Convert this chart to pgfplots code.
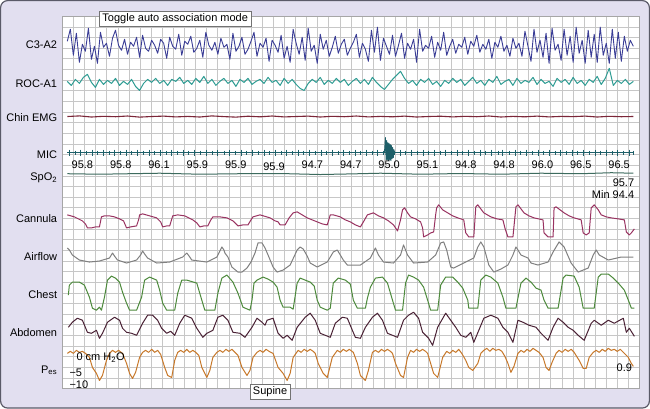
\documentclass[border=0pt]{standalone}
\usepackage{pgfplots}
\pgfplotsset{compat=1.18}
\usepackage{fontspec}
\setmainfont{Liberation Sans}
\definecolor{bgl}{HTML}{E2DFF0}
\definecolor{frm}{HTML}{5A5A68}
\definecolor{ceeg}{HTML}{3A3D96}
\definecolor{croc}{HTML}{2E9C93}
\definecolor{cemg}{HTML}{7B2638}
\definecolor{cmic}{HTML}{1E5F68}
\definecolor{cspo}{HTML}{3D6B5E}
\definecolor{ccan}{HTML}{993361}
\definecolor{cair}{HTML}{808080}
\definecolor{cche}{HTML}{4D8A3C}
\definecolor{cabd}{HTML}{4A2235}
\definecolor{cpes}{HTML}{C7782A}
\begin{document}
\begin{tikzpicture}[x=1bp,y=1bp]
\fill[bgl,draw=frm,line width=1.2bp,rounded corners=7bp] (1.5,1.5) rectangle (648,407.5);
\begin{axis}[
  at={(63bp,21bp)}, anchor=south west,
  scale only axis, width=575bp, height=371bp,
  xmin=63, xmax=638, ymin=17, ymax=388, y dir=reverse,
  axis background/.style={fill=white},
  axis line style={draw=black!35, line width=0.5pt},
  xtick={74.06,85.12,...,630}, ytick={27.6,38.2,...,380},
  xticklabels={}, yticklabels={}, major tick length=0pt,
  grid=major, grid style={draw=black!22, line width=0.45pt},
  clip=false,
  every axis plot/.append style={line width=1pt, line join=round},
  font=\fontsize{11}{12}\selectfont,
]
% C3-A2
\addplot[ceeg, mark=none, line width=0.9pt] table[x expr=68+3*\coordindex, y index=0, header=false, row sep=\\] {
42\\30\\56\\34\\63\\45\\52\\29\\60\\47\\64\\33\\
48\\44\\57\\39\\31\\46\\51\\40\\55\\43\\47\\38\\58\\36\\49\\52\\41\\46\\54\\
40\\44\\59\\38\\47\\50\\35\\56\\42\\45\\37\\53\\49\\41\\58\\33\\46\\51\\43\\55\\
39\\48\\45\\60\\34\\52\\47\\38\\55\\50\\42\\33\\57\\44\\48\\39\\62\\41\\46\\53\\
36\\59\\47\\63\\30\\44\\55\\38\\61\\29\\52\\46\\64\\35\\50\\41\\57\\48\\37\\54\\
45\\40\\56\\49\\43\\35\\58\\44\\50\\62\\31\\53\\28\\61\\39\\47\\55\\36\\57\\46\\
34\\59\\44\\50\\40\\63\\30\\52\\46\\49\\37\\58\\43\\51\\33\\56\\47\\40\\54\\45\\
48\\38\\55\\42\\47\\36\\53\\45\\50\\40\\59\\43\\48\\37\\52\\46\\57\\39\\49\\44\\
57\\32\\47\\62\\30\\53\\41\\58\\34\\64\\29\\51\\45\\61\\30\\56\\37\\63\\28\\54\\
41\\64\\31\\58\\35\\63\\28\\56\\44\\64\\30\\59\\33\\62\\37\\52\\41\\47\\
};
% ROC-A1
\addplot[croc, mark=none] table[x expr=68+4*\coordindex, y index=0, header=false, row sep=\\] {
82\\86\\80\\84\\78\\75\\83\\88\\80\\85\\
81\\84\\79\\86\\82\\85\\80\\87\\91\\84\\
80\\83\\79\\84\\81\\86\\80\\82\\78\\84\\
81\\85\\79\\83\\77\\84\\80\\86\\82\\79\\
84\\81\\87\\80\\83\\79\\85\\82\\80\\84\\
78\\83\\81\\86\\79\\84\\80\\85\\89\\91\\
84\\80\\83\\78\\85\\81\\84\\79\\83\\80\\
86\\82\\79\\84\\80\\85\\78\\83\\87\\90\\
85\\80\\76\\72\\79\\84\\81\\86\\80\\83\\
79\\85\\82\\87\\81\\84\\79\\83\\80\\86\\
82\\78\\84\\81\\86\\80\\83\\77\\85\\82\\
80\\86\\79\\84\\81\\83\\78\\85\\80\\84\\
82\\87\\79\\83\\80\\85\\78\\84\\81\\86\\
80\\83\\77\\85\\79\\69\\86\\81\\84\\80\\85\\82\\
};
% Chin EMG
\addplot[cemg, mark=none, line width=1.1pt] table[x expr=68+12*\coordindex, y index=0, header=false, row sep=\\] {
117\\116.4\\117.5\\116.8\\117.2\\116.5\\117.6\\117\\116.6\\117.4\\116.9\\117.5\\116.4\\117.1\\117.6\\116.7\\117.3\\116.5\\117.4\\117\\116.6\\117.5\\116.8\\117.2\\
116.5\\117.4\\116.9\\117.3\\116.6\\117.5\\117\\116.7\\117.4\\116.8\\117.2\\116.5\\117.5\\116.9\\117.3\\116.6\\117.4\\116.9\\117.1\\116.6\\117.5\\116.8\\117.2\\117\\
};
% MIC baseline and spikes
\addplot[cmic, mark=none, line width=1.2pt] coordinates {(68,153) (632,153)};
\addplot[cmic, only marks, mark=|, mark size=3pt, mark options={line width=0.8pt}] coordinates {
(70,153)(81,153)(93,153)(104,153)(115,153)(127,153)(138,153)(150,153)(161,153)(172,153)(184,153)(195,153)(207,153)(218,153)(229,153)(241,153)(252,153)(264,153)(275,153)(286,153)(298,153)(309,153)(321,153)(332,153)(343,153)(355,153)(366,153)(377,153)(400,153)(411,153)(423,153)(434,153)(445,153)(457,153)(468,153)(480,153)(491,153)(502,153)(514,153)(525,153)(537,153)(548,153)(559,153)(571,153)(582,153)(594,153)(605,153)(616,153)(628,153)};
\addplot[cmic, only marks, mark=|, mark size=2pt, mark options={line width=0.7pt}] coordinates {
(76,153)(87,153)(98,153)(110,153)(121,153)(132,153)(144,153)(155,153)(167,153)(178,153)(189,153)(201,153)(212,153)(224,153)(235,153)(246,153)(258,153)(269,153)(281,153)(292,153)(303,153)(315,153)(326,153)(338,153)(349,153)(360,153)(372,153)(383,153)(394,153)(405,153)(417,153)(428,153)(440,153)(451,153)(462,153)(474,153)(485,153)(497,153)(508,153)(519,153)(531,153)(542,153)(554,153)(565,153)(576,153)(588,153)(599,153)(611,153)(622,153)(632,153)};
\addplot[cmic, mark=none, line width=0.9pt] coordinates {
(384,153)(385,138)(385.6,160)(386.2,141)(386.8,160)(387.4,143)(388,161)(388.6,144)(389.2,160)(389.8,145)(390.4,161)(391,146)(391.6,159)(392.2,148)(392.8,158)(393.4,150)(394,153)};
% SpO2
\addplot[cspo, mark=none] coordinates {
(68,174)(100,174.5)(130,174)(160,173.5)(200,174.5)(240,174)(280,173.8)(320,174.8)(350,174.2)(380,173.5)(420,174.5)(460,173.8)(500,174.5)(540,173.5)(580,174)(610,173)(632,173.5)};
% Cannula
\addplot[ccan, mark=none] coordinates {
(68,215)(75,217)(83,221)(86,224)(88,228)(92,228)(96,227)(100,227)(102,217)(105,216)(110,216)(115,217)(120,219)(124,221)(127,228)(131,227)(137,226)(139,220)(140,215)(143,214)(150,216)(157,218)(161,222)(163,227)(167,226)(170,226)(173,216)(178,215)(185,216)(193,220)(197,223)(200,227)(204,226)(208,226)(211,220)(213,217)(220,217)(227,218)(233,221)(236,224)(238,226)(243,225)(248,225)(251,220)(253,217)(260,215)(270,218)(275,221)(278,222)(280,225)(285,225)(289,218)(293,213)(297,212)(302,215)(307,218)(312,220)(317,222)(322,224)(327,225)(330,215)(333,215)(340,217)(345,220)(350,222)(355,225)(360,227)(363,222)(367,215)(373,213)(378,216)(383,218)(388,221)(393,225)(397,231)(400,220)(402,210)(404,208)(407,213)(410,217)(415,219)(420,222)(422,228)(423,237)(427,235)(430,233)(433,232)(435,215)(436,208)(438,205)(442,210)(447,213)(452,216)(457,218)(463,220)(465,233)(468,237)(473,237)(475,207)(477,205)(480,209)(483,213)(490,217)(496,219)(502,220)(504,228)(507,237)(512,237)(515,207)(517,205)(520,209)(523,213)(528,216)(533,218)(542,220)(543,233)(547,237)(552,237)(553,208)(555,207)(559,210)(563,213)(568,216)(573,218)(580,220)(582,233)(585,235)(588,233)(590,208)(593,205)(597,210)(600,215)(605,217)(610,218)(617,219)(623,220)(625,232)(628,235)(630,233)(633,229)};
% Airflow
\addplot[cair, mark=none] coordinates {
(68,248)(70,250)(73,255)(80,260)(90,262)(100,261)(110,258)(113,253)(115,256)(118,260)(127,263)(137,260)(141,255)(143,251)(145,254)(148,258)(157,263)(170,262)(183,257)(187,253)(190,257)(192,260)(207,262)(217,257)(220,251)(222,247)(224,250)(225,253)(228,257)(232,267)(238,272)(242,272)(247,268)(251,262)(255,253)(258,243)(262,243)(265,248)(268,255)(273,267)(277,272)(283,270)(290,265)(297,250)(300,247)(303,249)(307,256)(310,263)(317,267)(327,262)(333,252)(337,250)(340,255)(343,260)(347,265)(360,265)(370,258)(375,248)(378,255)(383,262)(393,263)(400,255)(403,245)(405,250)(407,255)(413,263)(427,262)(435,255)(440,243)(443,242)(446,250)(450,267)(453,268)(463,263)(473,258)(477,247)(480,242)(483,247)(488,265)(493,272)(500,269)(507,265)(512,255)(515,247)(517,250)(520,255)(527,258)(530,263)(537,265)(547,262)(552,252)(555,247)(558,242)(563,247)(570,263)(577,272)(587,268)(592,255)(595,250)(598,255)(607,260)(620,257)(632,257)};
% Chest
\addplot[cche, mark=none] coordinates {
(69,295)(70,285)(73,282)(80,282)(85,285)(90,297)(93,308)(97,310)(100,307)(102,310)(105,297)(108,280)(112,276)(116,278)(120,282)(123,292)(127,303)(130,310)(137,310)(142,297)(145,280)(150,277)(157,280)(160,290)(163,303)(167,310)(175,310)(178,293)(182,280)(187,280)(197,283)(202,300)(205,310)(215,310)(218,293)(222,278)(227,275)(233,282)(238,293)(243,307)(250,310)(252,300)(254,283)(257,280)(263,277)(268,279)(273,282)(277,287)(280,300)(283,307)(290,307)(293,309)(297,283)(300,278)(305,280)(310,282)(314,286)(317,300)(320,307)(327,310)(330,308)(333,283)(338,278)(345,280)(350,284)(353,300)(357,308)(365,308)(367,298)(370,287)(375,278)(382,277)(387,283)(392,300)(395,310)(402,310)(405,283)(408,275)(413,277)(418,280)(423,287)(427,300)(430,310)(437,310)(440,285)(445,277)(452,277)(457,282)(462,288)(467,300)(468,308)(477,308)(480,280)(485,275)(490,277)(497,283)(502,297)(505,308)(515,308)(520,283)(525,278)(530,282)(535,288)(540,290)(543,300)(547,308)(557,308)(562,278)(565,275)(573,276)(578,287)(582,308)(593,308)(597,277)(600,274)(607,274)(612,278)(617,283)(623,290)(627,300)(630,308)(633,308)};
% Abdomen
\addplot[cabd, mark=none] coordinates {
(69,327)(73,322)(78,318)(83,320)(88,332)(92,333)(97,330)(100,338)(103,333)(108,322)(115,317)(120,320)(123,328)(127,332)(132,333)(137,335)(143,323)(148,315)(153,315)(158,320)(162,328)(167,333)(171,331)(175,335)(180,323)(185,315)(192,318)(197,328)(203,337)(207,333)(213,330)(218,317)(223,315)(228,320)(233,332)(240,333)(245,337)(252,327)(257,318)(262,322)(265,325)(267,320)(273,318)(278,333)(283,338)(287,335)(292,340)(297,327)(305,317)(310,313)(315,320)(320,333)(325,335)(330,337)(335,323)(342,317)(347,318)(352,330)(355,337)(360,338)(365,327)(372,317)(377,313)(382,320)(387,333)(392,335)(397,337)(403,320)(408,315)(413,312)(418,318)(422,332)(428,338)(432,345)(437,327)(445,313)(450,320)(455,327)(460,335)(465,337)(470,332)(473,342)(478,330)(483,318)(490,315)(497,318)(502,327)(507,332)(512,342)(517,320)(522,322)(528,325)(535,327)(540,333)(547,340)(552,327)(557,318)(562,322)(567,327)(572,330)(577,335)(583,340)(590,323)(593,320)(600,325)(607,320)(613,323)(622,318)(625,332)(628,328)(633,336)};
% Pes
\addplot[cpes, mark=none] coordinates {
(68,353)(71,351)(74,353)(77,350)(80,352)(83,351)(86,353)(90,357)(93,367)(97,373)(100,380)(103,375)(107,360)(110,353)(113,350)(116,352)(119,350)(123,353)(127,363)(130,373)(133,378)(136,372)(140,357)(143,352)(146,350)(149,352)(152,349)(155,352)(158,350)(161,354)(165,367)(168,375)(172,377)(175,360)(178,352)(181,350)(184,352)(187,349)(190,352)(193,350)(196,352)(199,355)(202,367)(207,377)(210,370)(213,357)(217,352)(220,350)(223,352)(226,349)(229,351)(232,349)(235,352)(238,355)(242,367)(247,375)(250,370)(253,357)(257,352)(260,350)(263,352)(266,349)(269,351)(273,353)(278,367)(283,373)(287,380)(290,373)(293,357)(298,350)(301,352)(304,349)(307,351)(310,349)(313,351)(315,353)(318,363)(323,373)(327,377)(332,357)(337,350)(340,352)(343,349)(346,351)(349,349)(353,352)(357,363)(360,375)(365,380)(368,370)(372,352)(375,350)(378,352)(381,349)(384,351)(387,349)(390,351)(392,353)(395,363)(400,375)(403,377)(407,357)(410,350)(413,352)(416,349)(419,351)(422,349)(425,351)(427,353)(430,363)(433,373)(437,377)(442,357)(446,351)(449,353)(452,350)(455,352)(458,349)(461,353)(465,360)(468,367)(472,370)(477,363)(480,353)(483,350)(486,348)(489,351)(492,348)(495,350)(498,349)(501,351)(504,356)(507,363)(510,372)(513,366)(517,353)(520,350)(523,352)(526,349)(529,351)(532,348)(535,350)(538,352)(542,357)(545,367)(548,370)(551,362)(555,353)(558,350)(561,352)(564,349)(567,351)(570,349)(573,352)(578,360)(582,368)(585,368)(588,357)(592,352)(595,350)(598,352)(601,349)(604,351)(607,348)(610,350)(613,349)(616,351)(619,349)(622,352)(627,357)(630,363)(632,366)};
% channel labels
\node[anchor=east, inner sep=0pt] at (axis cs:58,45) {C3-A2};
\node[anchor=east, inner sep=0pt] at (axis cs:58,84) {ROC-A1};
\node[anchor=east, inner sep=0pt] at (axis cs:58,118) {Chin EMG};
\node[anchor=east, inner sep=0pt] at (axis cs:58,155) {MIC};
\node[anchor=east, inner sep=0pt] at (axis cs:58,178) {SpO\textsubscript{2}};
\node[anchor=east, inner sep=0pt] at (axis cs:58,219) {Cannula};
\node[anchor=east, inner sep=0pt] at (axis cs:58,257) {Airflow};
\node[anchor=east, inner sep=0pt] at (axis cs:58,294) {Chest};
\node[anchor=east, inner sep=0pt] at (axis cs:58,332) {Abdomen};
\node[anchor=east, inner sep=0pt] at (axis cs:58,370) {P\textsubscript{es}};
% SpO2 values
\node at (axis cs:83,165) {95.8};
\node at (axis cs:121.2,165) {95.8};
\node at (axis cs:159.4,165) {96.1};
\node at (axis cs:197.6,165) {95.9};
\node at (axis cs:235.8,165) {95.9};
\node at (axis cs:274,167) {95.9};
\node at (axis cs:312.2,165) {94.7};
\node at (axis cs:350.4,165) {94.7};
\node at (axis cs:388.6,165) {95.0};
\node at (axis cs:426.8,165) {95.1};
\node at (axis cs:465,165) {94.8};
\node at (axis cs:503.2,165) {94.8};
\node at (axis cs:541.4,165) {96.0};
\node at (axis cs:579.6,165) {96.5};
\node at (axis cs:617.8,165) {96.5};
\node[anchor=east, inner sep=0pt] at (axis cs:633,183) {95.7};
\node[anchor=east, inner sep=0pt] at (axis cs:633,195) {Min 94.4};
% Pes scale
\node[anchor=west, inner sep=0pt] at (axis cs:77,357) {0 cm H\textsubscript{2}O};
\node[anchor=west, inner sep=0pt] at (axis cs:70,372) {−5};
\node[anchor=west, inner sep=0pt] at (axis cs:70,384) {−10};
\node[inner sep=0pt] at (axis cs:623,367) {0.9};
% boxes
\node[draw=black!55, fill=white, inner xsep=3bp, inner ysep=2.5bp, line width=0.6pt] at (axis cs:175.5,19.5) {Toggle auto association mode};
\node[draw=black!55, fill=white, inner xsep=3bp, inner ysep=2.5bp, line width=0.6pt] at (axis cs:270,391.5) {Supine};
\end{axis}
\end{tikzpicture}
\end{document}
